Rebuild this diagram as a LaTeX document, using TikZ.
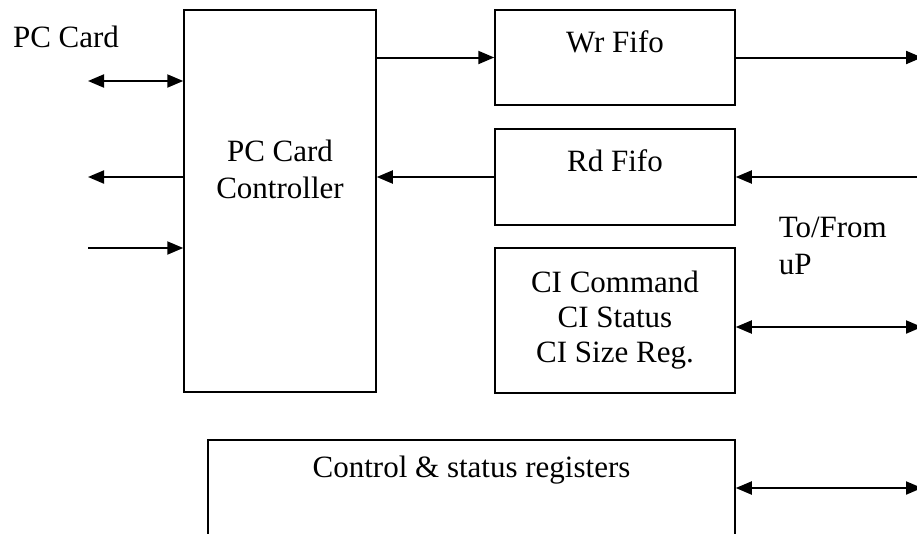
\documentclass[tikz,border=0pt]{standalone}
\usepackage{fontspec}
\setmainfont{Liberation Serif}
\usetikzlibrary{arrows.meta}

\begin{document}
\begin{tikzpicture}[x=1pt,y=-1pt,line width=1.5pt,
block/.style={draw,rectangle,inner sep=0pt,align=center,font=\fontsize{31}{35}\selectfont},
txt/.style={inner sep=0pt,align=center,font=\fontsize{31}{37}\selectfont},
link/.style={line width=2pt},
>={Triangle[length=16pt,width=13pt]}]

\useasboundingbox (0,0) rectangle (917,533);
\clip (0,0) rectangle (917,533);

% blocks
\draw (280,201) node[block,minimum width=192,minimum height=382] (ctrl) {};
\draw (280,169) node[txt] (ctrltxt) {PC Card\\Controller};

\draw (615,57.5) node[block,minimum width=240,minimum height=95] (wr) {};
\draw (615,42) node[txt] (wrtxt) {Wr Fifo};

\draw (615,177) node[block,minimum width=240,minimum height=96] (rd) {};
\draw (615,161) node[txt] (rdtxt) {Rd Fifo};

\draw (615,320.5) node[block,minimum width=240,minimum height=145] (ci) {CI Command\\CI Status\\CI Size Reg.};

\draw (471.5,520) node[block,minimum width=527,minimum height=160] (regs) {};
\draw (471.5,470) node[txt] (regstxt) {Control \& status registers};

% outside labels
\draw (66,37) node[txt] (pccard) {PC Card};
\draw (778,246) node[txt,anchor=west,align=left] (up) {To/From\\uP};

% free ends
\coordinate (pc1) at (88,81);
\coordinate (pc2) at (88,177);
\coordinate (pc3) at (88,248);
\coordinate (up1) at (922,57.5);
\coordinate (up2) at (922,177);
\coordinate (up3) at (922,327);
\coordinate (up4) at (922,488);

% PC card side
\draw[link,<->] (pc1) -- (ctrl.west |- pc1);
\draw[link,->] (ctrl.west |- pc2) -- (pc2);
\draw[link,->] (pc3) -- (ctrl.west |- pc3);

% controller to fifos
\draw[link,->] (ctrl.east |- wr.west) -- (wr.west);
\draw[link,->] (rd.west) -- (ctrl.east |- rd.west);

% uP side
\draw[link,->] (wr.east) -- (up1);
\draw[link,->] (up2) -- (rd.east);
\draw[link,<->] (ci.east |- up3) -- (up3);
\draw[link,<->] (regs.east |- up4) -- (up4);

\end{tikzpicture}
\end{document}
